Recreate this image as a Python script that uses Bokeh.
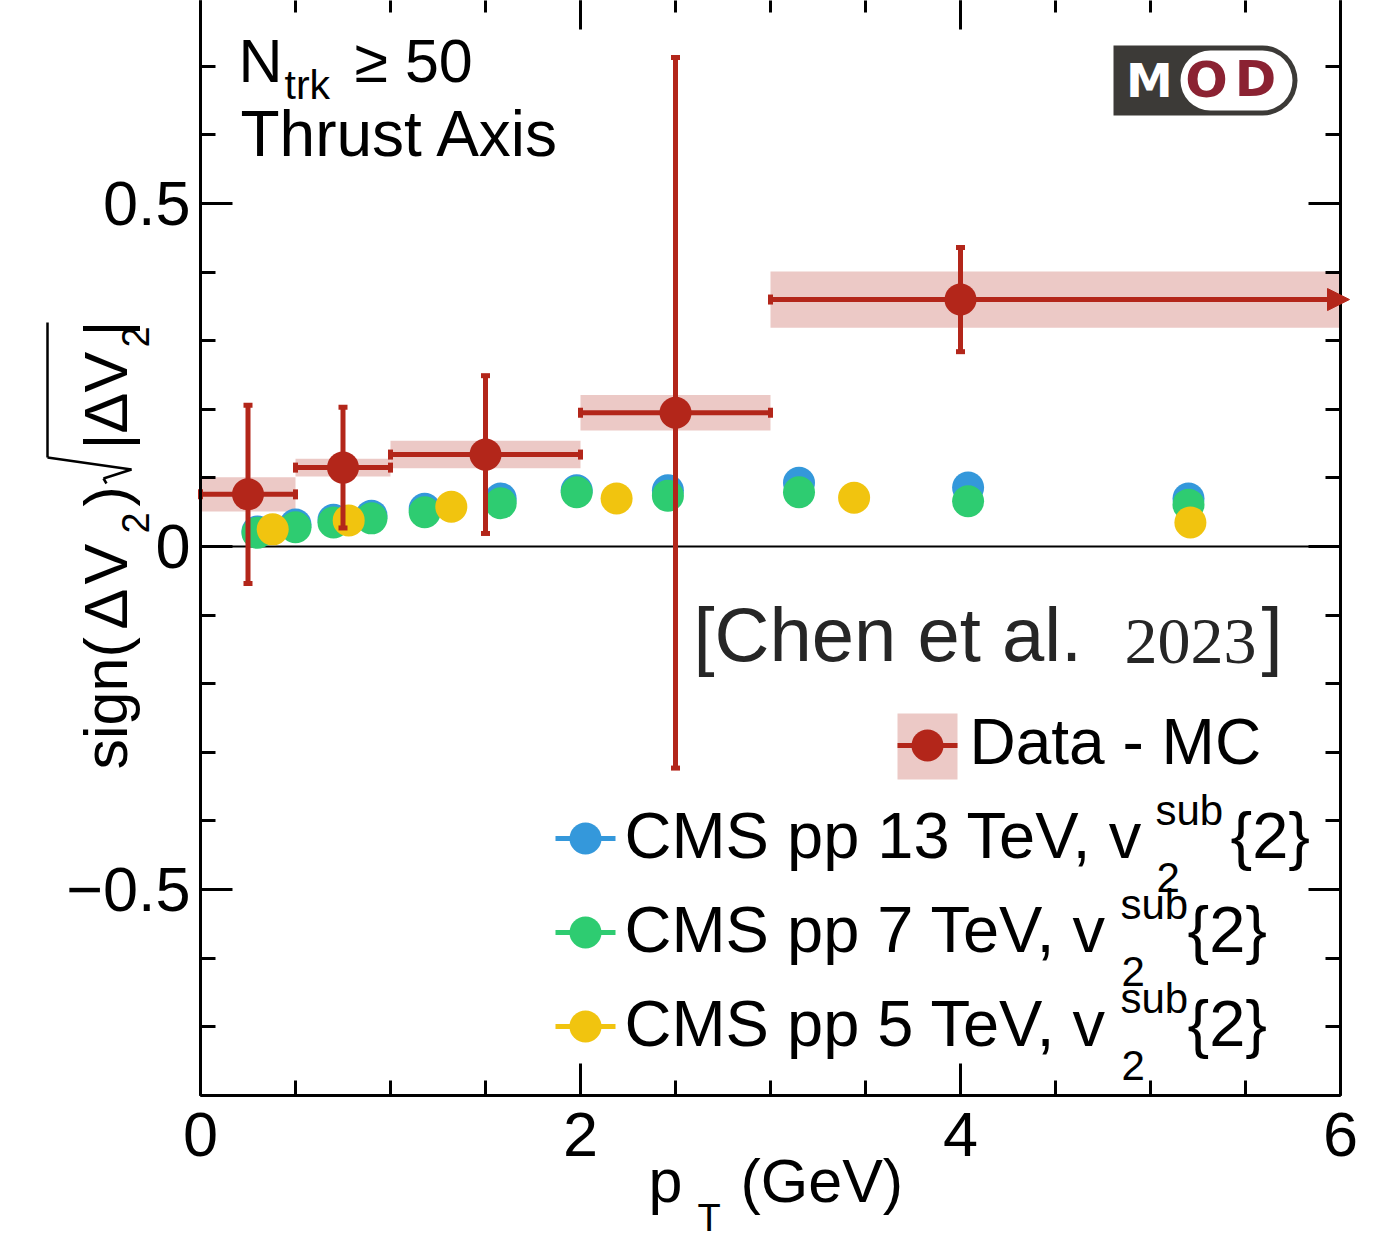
import math
from bokeh.plotting import figure
from bokeh.models import (Range1d, LinearAxis, FixedTicker, Label,
                          BoxAnnotation, Arrow, NormalHead)
from bokeh.embed import file_html
from bokeh.resources import INLINE

# ---------------- data ----------------
data_x = [0.25, 0.75, 1.5, 2.5, 4.0]
data_xlo = [0.0, 0.5, 1.0, 2.0, 3.0]
data_xhi = [0.5, 1.0, 2.0, 3.0, 6.0]
data_y = [0.076, 0.115, 0.134, 0.195, 0.360]
data_stat = [0.130, 0.088, 0.115, 0.518, 0.076]
data_sys = [0.025, 0.013, 0.020, 0.026, 0.041]

cms13_x = [0.30, 0.50, 0.70, 0.90, 1.18, 1.58, 1.98, 2.46, 3.15, 4.04, 5.20]
cms13_y = [0.022, 0.032, 0.039, 0.045, 0.055, 0.070, 0.082, 0.082, 0.093, 0.086, 0.070]
cms7_x = [0.30, 0.50, 0.70, 0.90, 1.18, 1.58, 1.98, 2.46, 3.15, 4.04, 5.20]
cms7_y = [0.020, 0.028, 0.035, 0.041, 0.050, 0.063, 0.079, 0.074, 0.079, 0.066, 0.061]
cms5_x = [0.38, 0.78, 1.32, 2.19, 3.44, 5.21]
cms5_y = [0.025, 0.038, 0.058, 0.070, 0.071, 0.035]

plot_x = (0.0, 6.0)
plot_y = (-0.8, 0.8)
x_major = [0, 2, 4, 6]
x_minor = [0, 0.5, 1, 1.5, 2, 2.5, 3, 3.5, 4, 4.5, 5, 5.5, 6]
y_major = [-0.5, 0, 0.5]
y_minor = [-0.8, -0.7, -0.6, -0.5, -0.4, -0.3, -0.2, -0.1, 0.0,
           0.1, 0.2, 0.3, 0.4, 0.5, 0.6, 0.7, 0.8]
y_tick_labels = {-0.5: "\u22120.5", 0: "0", 0.5: "0.5"}

RED = "#b3261a"
PINK = "#ecc9c6"
BLUE = "#3498db"
GREEN = "#2ecc71"
YELLOW = "#f1c40f"
FONT = "Liberation Sans"

W, H = 1389, 1240


# canvas pixel -> data helpers (plot box: x 200..1340, y 0 at 546, 686 px per unit)
def X(px):
    return (px - 200) / 190.0


def Y(py):
    return (546 - py) / 686.0


p = figure(frame_width=W, frame_height=H, min_border=0,
           x_range=Range1d(X(0), X(W)), y_range=Range1d(Y(H), Y(0)),
           output_backend="svg", toolbar_location=None,
           background_fill_color="white", border_fill_color="white",
           outline_line_color=None)
p.grid.visible = False


def style_axis(ax, ticker):
    ax.ticker = ticker
    ax.axis_line_width = 3
    ax.axis_line_color = "black"
    ax.major_tick_in = 32
    ax.major_tick_out = 0
    ax.minor_tick_in = 15
    ax.minor_tick_out = 0
    ax.major_tick_line_width = 3
    ax.minor_tick_line_width = 3
    ax.major_tick_line_color = "black"
    ax.minor_tick_line_color = "black"
    ax.major_label_text_font = FONT
    ax.major_label_text_font_size = "63px"
    ax.major_label_text_color = "black"


bottom_ax = p.xaxis[0]
style_axis(bottom_ax, FixedTicker(ticks=x_major, minor_ticks=x_minor))
bottom_ax.fixed_location = plot_y[0]
bottom_ax.bounds = plot_x
bottom_ax.major_label_standoff = 18

left_ax = p.yaxis[0]
style_axis(left_ax, FixedTicker(ticks=y_major, minor_ticks=y_minor))
left_ax.fixed_location = plot_x[0]
left_ax.bounds = plot_y
left_ax.major_label_standoff = 10
left_ax.major_label_overrides = y_tick_labels


# mirrored tick marks (no labels) on top and right
def mirror_axis(side, loc, bounds, positions, length, line):
    ax = LinearAxis(fixed_location=loc, bounds=bounds,
                    ticker=FixedTicker(ticks=[], minor_ticks=positions),
                    axis_line_color="black" if line else None, axis_line_width=3,
                    major_tick_in=0, major_tick_out=0,
                    minor_tick_in=length, minor_tick_out=0,
                    minor_tick_line_width=3, minor_tick_line_color="black")
    p.add_layout(ax, side)


mirror_axis("above", plot_y[1], plot_x, x_minor, 15, False)
mirror_axis("above", plot_y[1], plot_x, x_major, 32, False)
mirror_axis("right", plot_x[1], plot_y, y_minor, 15, True)
mirror_axis("right", plot_x[1], plot_y, y_major, 32, False)

# zero line
p.segment(x0=[plot_x[0]], y0=[0], x1=[plot_x[1]], y1=[0], line_color="black", line_width=2)

# ---------------- systematic boxes ----------------
p.quad(left=data_xlo, right=data_xhi,
       bottom=[y - s for y, s in zip(data_y, data_sys)],
       top=[y + s for y, s in zip(data_y, data_sys)],
       fill_color=PINK, line_color=None)

# ---------------- CMS points ----------------
p.scatter(cms13_x, cms13_y, size=32, fill_color=BLUE, line_color=None)
p.scatter(cms7_x, cms7_y, size=32, fill_color=GREEN, line_color=None)
p.scatter(cms5_x, cms5_y, size=32, fill_color=YELLOW, line_color=None)

# ---------------- Data - MC ----------------
p.segment(x0=data_x, y0=[y - e for y, e in zip(data_y, data_stat)],
          x1=data_x, y1=[y + e for y, e in zip(data_y, data_stat)],
          line_color=RED, line_width=5)
p.segment(x0=data_xlo, y0=data_y, x1=data_xhi, y1=data_y,
          line_color=RED, line_width=5)
p.rect(x=data_x + data_x,
       y=[y + e for y, e in zip(data_y, data_stat)] + [y - e for y, e in zip(data_y, data_stat)],
       width=9, height=5, width_units="screen", height_units="screen",
       fill_color=RED, line_color=None)
p.rect(x=data_xlo + data_xhi[:-1], y=data_y + data_y[:-1],
       width=5, height=10, width_units="screen", height_units="screen",
       fill_color=RED, line_color=None)
p.add_layout(Arrow(end=NormalHead(size=22, fill_color=RED, line_color=RED),
                   x_start=data_xhi[-1] - 0.1, y_start=data_y[-1],
                   x_end=data_xhi[-1] + 9 / 190.0, y_end=data_y[-1],
                   line_color=RED, line_width=5))
p.scatter(data_x, data_y, size=32, fill_color=RED, line_color=None)

# ---------------- texts ----------------
MID = {"Liberation Sans": 0.37, "Liberation Serif": 0.35, "DejaVu Sans": 0.37}


def lab(px, base, text, size, font=FONT, color="black", align="left", style="normal"):
    """px, base: canvas pixels of the text start and its baseline."""
    off = MID[font] * size
    p.add_layout(Label(x=X(px), y=Y(base - off), text=text, text_font=font,
                       text_font_size=f"{size}px", text_color=color,
                       text_align=align, text_baseline="middle",
                       text_font_style=style))


def rlab(start_y, base_x, text, size):
    """text rotated 90 degrees, reading upward from start_y, baseline at base_x."""
    off = MID[FONT] * size
    p.add_layout(Label(x=X(base_x - off), y=Y(start_y), text=text, text_font=FONT,
                       text_font_size=f"{size}px", text_color="black",
                       text_align="left", text_baseline="middle",
                       angle=math.pi / 2))


lab(238, 83, "N", 61)
lab(284, 100, "trk", 41)
lab(354, 83, "\u2265 50", 61)
lab(240, 157, "Thrust Axis", 64)

# citation
lab(693, 662, "[Chen et al.", 76, color="#262626")
lab(1124, 664, "2023", 66, font="Liberation Serif", color="#262626")
lab(1261, 662, "]", 76, color="#262626")

# legend: Data - MC
p.quad(left=X(897), right=X(957), top=Y(713), bottom=Y(779),
       fill_color=PINK, line_color=None)
p.segment(x0=X(897), y0=Y(745), x1=X(957), y1=Y(745), line_color=RED, line_width=5)
p.scatter([X(927)], [Y(745)], size=32, fill_color=RED, line_color=None)
lab(969, 765, "Data - MC", 64)

# legend: CMS entries
entries = [
    (BLUE, "CMS pp 13 TeV, v", 859, 1155, 1230),
    (GREEN, "CMS pp 7 TeV, v", 953, 1120, 1187),
    (YELLOW, "CMS pp 5 TeV, v", 1047, 1120, 1187),
]
for col, txt, base, sx, bx in entries:
    cy = base - 21
    p.segment(x0=X(555), y0=Y(cy), x1=X(615), y1=Y(cy), line_color=col, line_width=5)
    p.scatter([X(585)], [Y(cy)], size=32, fill_color=col, line_color=None)
    lab(624, base, txt, 65)
    lab(sx, base - 33, "sub", 42)
    lab(sx + 1, base + 34, "2", 42)
    lab(bx, base, "{2}", 65)

# x axis title
lab(648, 1203, "p", 61)
lab(697, 1232, "T", 38)
lab(740, 1203, "(GeV)", 61)

# y axis title (rotated pieces)
rlab(769, 128, "sign(", 61)
rlab(629, 128, "\u0394", 61)
rlab(584, 128, "V", 61)
rlab(533, 149, "2", 38)
rlab(506, 128, ")", 61)
rlab(449, 128, "|", 61)
rlab(433, 128, "\u0394", 61)
rlab(392, 128, "V", 61)
rlab(347, 149, "2", 38)
rlab(336, 128, "|", 61)
for (ax0, ay0, ax1, ay1) in [(47, 322, 47, 457), (47, 457, 131, 469),
                             (131, 469, 103, 478), (103, 478, 106, 483)]:
    p.add_layout(Arrow(end=None, x_start=X(ax0), y_start=Y(ay0),
                       x_end=X(ax1), y_end=Y(ay1),
                       line_color="black", line_width=2.5))

# MOD logo
p.add_layout(BoxAnnotation(left=X(1113), right=X(1297), top=Y(45), bottom=Y(115),
                           fill_color="#3c3a37", fill_alpha=1.0, line_color=None,
                           border_radius=(0, 35, 35, 0)))
p.add_layout(BoxAnnotation(left=X(1180), right=X(1292), top=Y(50), bottom=Y(110),
                           fill_color="white", fill_alpha=1.0, line_color=None,
                           border_radius=30))
lab(1149, 97, "M", 47, font="DejaVu Sans", color="white", align="center", style="bold")
lab(1206, 98, "O", 50, font="DejaVu Sans", color="#8b2232", align="center", style="bold")
lab(1255, 97, "D", 50, font="DejaVu Sans", color="#8b2232", align="center", style="bold")

open("out.html", "w").write(file_html(p, INLINE))
